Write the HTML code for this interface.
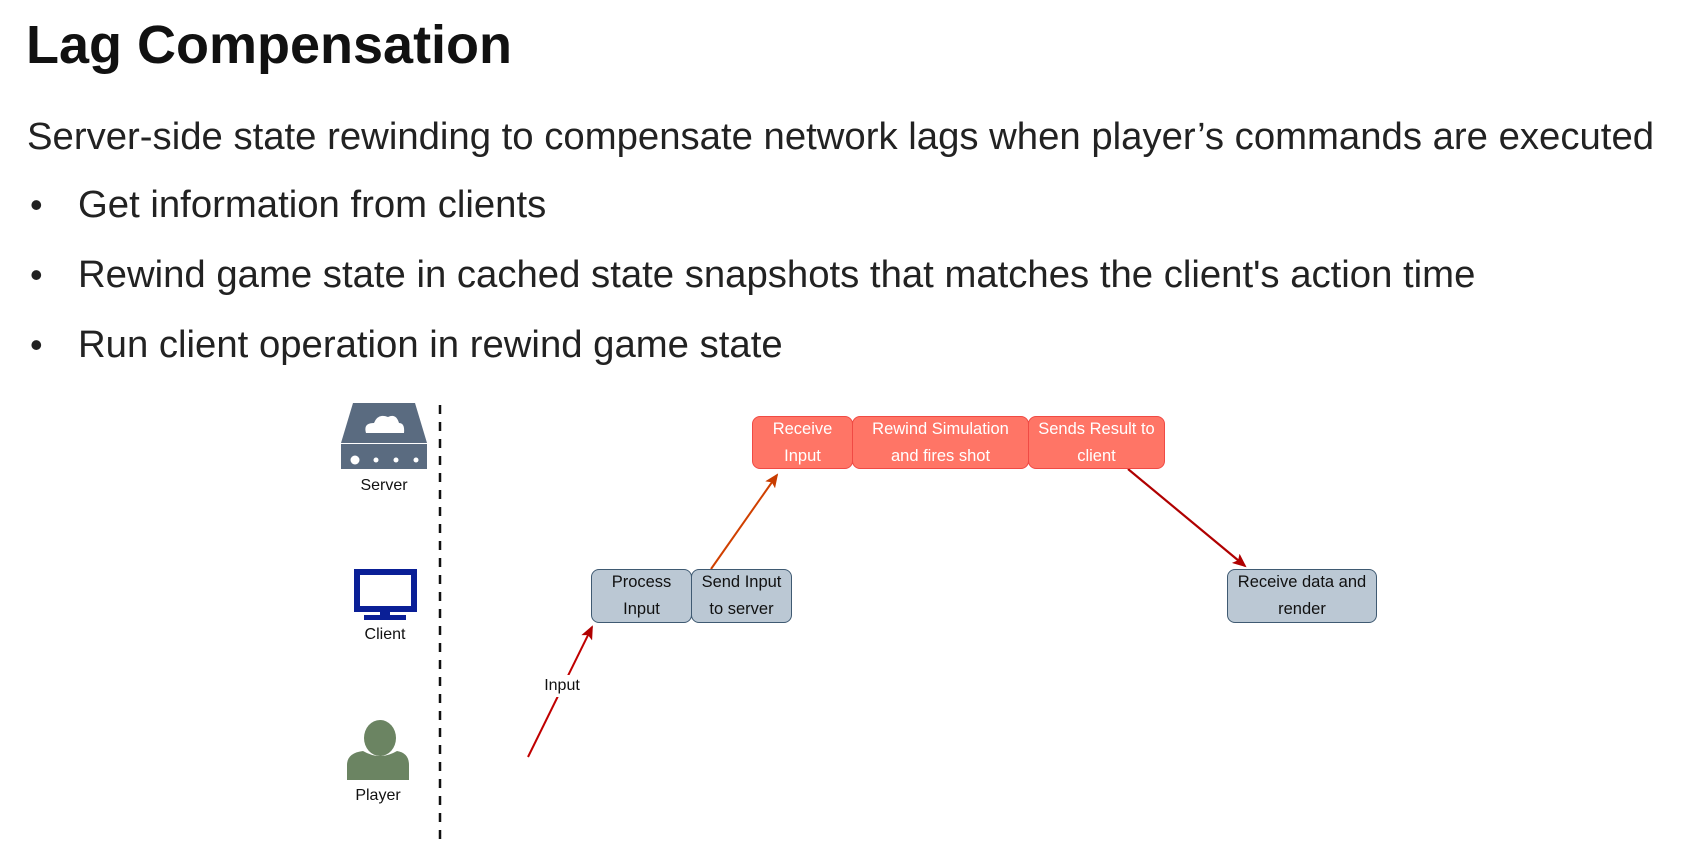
<!DOCTYPE html>
<html><head><meta charset="utf-8"><style>
body{margin:0;width:1684px;height:860px;background:#fff;position:relative;overflow:hidden;font-family:"Liberation Sans",sans-serif;color:#222}
.t{position:absolute;white-space:nowrap}
.box{position:absolute;box-sizing:border-box;border-radius:8px;display:flex;align-items:center;justify-content:center;text-align:center;font-size:16.5px;line-height:27px}
.r{background:#ff7566;border:1.5px solid #f04a44;color:#fff}
.b{background:#bbc8d4;border:1.5px solid #3f5a72;color:#111}
.lbl{position:absolute;font-size:16px;color:#111;transform:translateX(-50%)}
</style></head><body>
<div class="t" style="left:26px;top:14px;font-size:54px;font-weight:bold;color:#111">Lag Compensation</div>
<div class="t" style="left:27px;top:115px;font-size:38.3px">Server-side state rewinding to compensate network lags when player’s commands are executed</div>
<div class="t" style="left:30px;top:184px;font-size:36px">•</div>
<div class="t" style="left:78px;top:183px;font-size:38.3px">Get information from clients</div>
<div class="t" style="left:30px;top:254px;font-size:36px">•</div>
<div class="t" style="left:78px;top:253px;font-size:38.3px">Rewind game state in cached state snapshots that matches the client's action time</div>
<div class="t" style="left:30px;top:324px;font-size:36px">•</div>
<div class="t" style="left:78px;top:323px;font-size:38.3px">Run client operation in rewind game state</div>

<svg width="1684" height="860" style="position:absolute;left:0;top:0">
<defs>
<marker id="ar" markerWidth="14" markerHeight="12" refX="12" refY="6" orient="auto" markerUnits="userSpaceOnUse"><path d="M0,0 L14,6 L0,12 L3,6z" fill="#b00000"/></marker>
<marker id="ao" markerWidth="14" markerHeight="12" refX="12" refY="6" orient="auto" markerUnits="userSpaceOnUse"><path d="M0,0 L14,6 L0,12 L3,6z" fill="#c83c00"/></marker>
</defs>
<line x1="440" y1="405" x2="440" y2="843" stroke="#111" stroke-width="2.5" stroke-dasharray="9,8"/>
<path d="M353,403 L415,403 L427,443 L341,443 Z" fill="#5a6b80"/>
<rect x="341" y="444" width="86" height="25" fill="#5a6b80"/>
<path d="M366,433 q-3,-10 8,-10 q4,-10 14,-6 q8,-4 11,6 q6,0 5,10 z" fill="#fff"/>
<circle cx="355" cy="460" r="4.5" fill="#fff"/><circle cx="376" cy="460" r="2.5" fill="#fff"/><circle cx="396" cy="460" r="2.5" fill="#fff"/><circle cx="416" cy="460" r="2.5" fill="#fff"/>
<rect x="357" y="572" width="57" height="37" fill="#fff" stroke="#0a1f96" stroke-width="6"/>
<rect x="380" y="610" width="10" height="6" fill="#0a1f96"/>
<rect x="364" y="615" width="42" height="5" fill="#0a1f96"/>
<ellipse cx="380" cy="738" rx="16" ry="18" fill="#6b8462"/>
<path d="M347,780 L347,765 q0,-12 16,-14 q17,10 34,0 q12,2 12,14 L409,780 z" fill="#6b8462"/>
<line x1="528" y1="757" x2="592" y2="627" stroke="#c00000" stroke-width="2" marker-end="url(#ar)"/>
<line x1="711" y1="569" x2="777" y2="475" stroke="#d04000" stroke-width="2" marker-end="url(#ao)"/>
<line x1="1128" y1="469" x2="1245" y2="566" stroke="#b00000" stroke-width="2.2" marker-end="url(#ar)"/>
<rect x="540" y="675" width="44" height="22" fill="#fff"/>
</svg>
<div class="lbl" style="left:384px;top:477px">Server</div>
<div class="lbl" style="left:385px;top:626px">Client</div>
<div class="lbl" style="left:378px;top:787px">Player</div>
<div class="lbl" style="left:562px;top:677px">Input</div>

<div class="box r" style="left:752px;top:416px;width:101px;height:53px">Receive<br>Input</div>
<div class="box r" style="left:852px;top:416px;width:177px;height:53px">Rewind Simulation<br>and fires shot</div>
<div class="box r" style="left:1028px;top:416px;width:137px;height:53px">Sends Result to<br>client</div>
<div class="box b" style="left:591px;top:569px;width:101px;height:54px">Process<br>Input</div>
<div class="box b" style="left:691px;top:569px;width:101px;height:54px">Send Input<br>to server</div>
<div class="box b" style="left:1227px;top:569px;width:150px;height:54px">Receive data and<br>render</div>
</body></html>
